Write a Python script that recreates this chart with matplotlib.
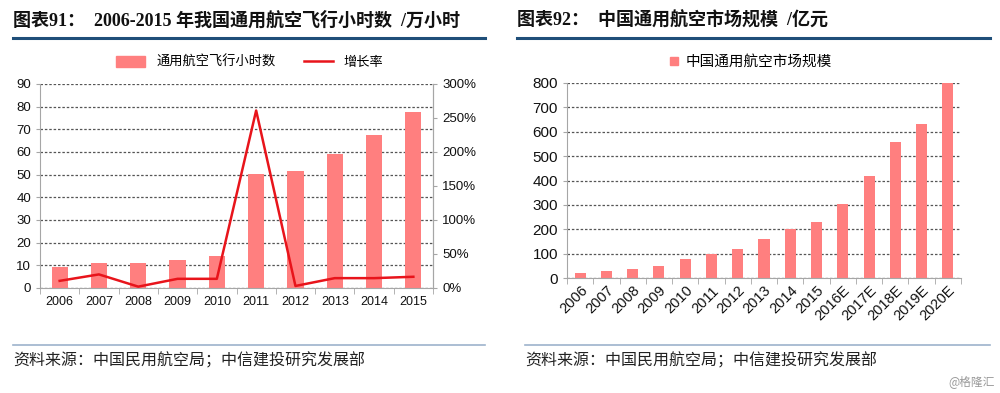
import matplotlib
matplotlib.use("Agg")
import matplotlib.pyplot as plt
from matplotlib.lines import Line2D
from matplotlib.patches import Patch
import numpy as np

plt.rcParams['font.family'] = ['Liberation Sans', 'Noto Sans CJK SC']

# ---- Data ----
years1 = ['2006', '2007', '2008', '2009', '2010', '2011', '2012', '2013', '2014', '2015']
hours = [9.2, 11.2, 11.1, 12.4, 14.1, 50.3, 51.7, 59.2, 67.5, 77.5]
growth = [10.5, 20.0, 2.0, 13.5, 13.5, 261.0, 3.0, 14.5, 14.5, 16.5]

years2 = ['2006', '2007', '2008', '2009', '2010', '2011', '2012', '2013', '2014', '2015',
          '2016E', '2017E', '2018E', '2019E', '2020E']
market = [20, 30, 37, 48, 77, 100, 119, 159, 202, 228, 303, 418, 558, 630, 800]

title1 = '图表91：  2006-2015 年我国通用航空飞行小时数  /万小时'
title2 = '图表92：  中国通用航空市场规模  /亿元'
leg_bar1 = '通用航空飞行小时数'
leg_line1 = '增长率'
leg_bar2 = '中国通用航空市场规模'
source = '资料来源：中国民用航空局；中信建投研究发展部'
watermark = '@格隆汇'

BAR = '#FF7F7F'
LINE = '#E8141B'
GRID = '#555555'
SPINE = '#A6A6A6'
TITLE_LINE = '#1F4E79'
SEP_LINE = '#9DB3CC'

fig = plt.figure(figsize=(10, 3.93), dpi=100)
W, H = 1000, 393

def fx(x):
    return x / W

def fy(y):
    return 1 - y / H

title_font = ['Liberation Serif', 'Noto Sans CJK SC']
fig.text(fx(13), fy(20), title1, fontsize=13, fontweight='bold', family=title_font,
         va='center', ha='left', color='#111111')
fig.text(fx(517), fy(20), title2, fontsize=13, fontweight='bold', family=title_font,
         va='center', ha='left', color='#111111')
fig.add_artist(Line2D([fx(13), fx(485)], [fy(38), fy(38)], color=TITLE_LINE, lw=2.2))
fig.add_artist(Line2D([fx(517), fx(990)], [fy(38), fy(38)], color=TITLE_LINE, lw=2.2))
fig.add_artist(Line2D([fx(13), fx(485)], [fy(345), fy(345)], color=SEP_LINE, lw=1.2))
fig.add_artist(Line2D([fx(525), fx(990)], [fy(345), fy(345)], color=SEP_LINE, lw=1.2))
fig.text(fx(13), fy(361), source, fontsize=11.5, family=['Noto Sans CJK SC'],
         va='center', ha='left', color='#222222', style='italic')
fig.text(fx(525), fy(361), source, fontsize=11.5, family=['Noto Sans CJK SC'],
         va='center', ha='left', color='#222222', style='italic')
fig.text(fx(995), fy(382), watermark, fontsize=8.5, family=['Noto Sans CJK SC'],
         va='center', ha='right', color='#999999')

def style_axis(ax):
    for s in ['top']:
        ax.spines[s].set_visible(False)
    for s in ['left', 'bottom', 'right']:
        ax.spines[s].set_color(SPINE)
    ax.tick_params(axis='both', colors=SPINE, labelcolor='#111111', labelsize=9,
                   length=3, width=0.8)
    ax.set_axisbelow(True)

# ---- Left chart ----
ax1 = fig.add_axes([fx(40), fy(288), fx(433 - 40), (288 - 84) / H])
x1 = np.arange(len(years1))
ax1.bar(x1, hours, width=0.41, color=BAR, zorder=2)
ax1.set_ylim(0, 90)
ax1.set_yticks(range(0, 91, 10))
ax1.set_xlim(-0.5, len(years1) - 0.5)
ax1.set_xticks(x1)
ax1.set_xticklabels(years1)
ax1.yaxis.grid(True, linestyle=(0, (2, 1.5)), color=GRID, lw=0.9)
style_axis(ax1)
ax1.spines['right'].set_visible(True)
ax1.tick_params(axis='x', length=0, pad=6)
ax1.set_xticks(np.arange(-0.5, len(years1), 1), minor=True)
ax1.tick_params(axis='x', which='minor', length=4, color=SPINE)
ax1.tick_params(axis='y', labelsize=9.5)

ax1b = ax1.twinx()
ax1b.plot(x1, growth, color=LINE, lw=1.8, zorder=3)
ax1b.set_ylim(0, 300)
ax1b.set_yticks(range(0, 301, 50))
ax1b.set_yticklabels([f'{v}%' for v in range(0, 301, 50)])
style_axis(ax1b)
ax1b.spines['left'].set_visible(False)
ax1b.spines['bottom'].set_visible(False)
ax1b.tick_params(axis='y', labelsize=9.5)

handles1 = [Patch(color=BAR), Line2D([0], [0], color=LINE, lw=1.8)]
fig.legend(handles1, [leg_bar1, leg_line1], loc='center', bbox_to_anchor=(fx(250), fy(62)),
           ncol=2, frameon=False, handlelength=2.2, handleheight=0.9,
           columnspacing=2.2, prop={'family': ['Noto Sans CJK SC'], 'size': 9.5})

# ---- Right chart ----
ax2 = fig.add_axes([fx(567), fy(278), fx(961 - 567), (278 - 83) / H])
x2 = np.arange(len(years2))
ax2.bar(x2, market, width=0.42, color=BAR, zorder=2)
ax2.set_ylim(0, 800)
ax2.set_yticks(range(0, 801, 100))
ax2.set_xlim(-0.5, len(years2) - 0.5)
ax2.set_xticks(x2)
ax2.set_xticklabels(years2, rotation=45, ha='right', rotation_mode='anchor')
ax2.yaxis.grid(True, linestyle=(0, (2, 1.5)), color=GRID, lw=0.9)
style_axis(ax2)
ax2.spines['right'].set_visible(False)
ax2.tick_params(axis='x', length=0, pad=4, labelsize=10.5)
ax2.set_xticks(np.arange(-0.5, len(years2), 1), minor=True)
ax2.tick_params(axis='x', which='minor', length=4, color=SPINE)
ax2.tick_params(axis='y', labelsize=11)

handles2 = [Line2D([0], [0], marker='s', color='none', markerfacecolor=BAR,
                   markeredgecolor=BAR, markersize=6)]
fig.legend(handles2, [leg_bar2], loc='center', bbox_to_anchor=(fx(750), fy(62)),
           frameon=False, handlelength=0.8, handletextpad=0.4,
           prop={'family': ['Noto Sans CJK SC'], 'size': 10.5})

fig.savefig('out.png', dpi=100)
